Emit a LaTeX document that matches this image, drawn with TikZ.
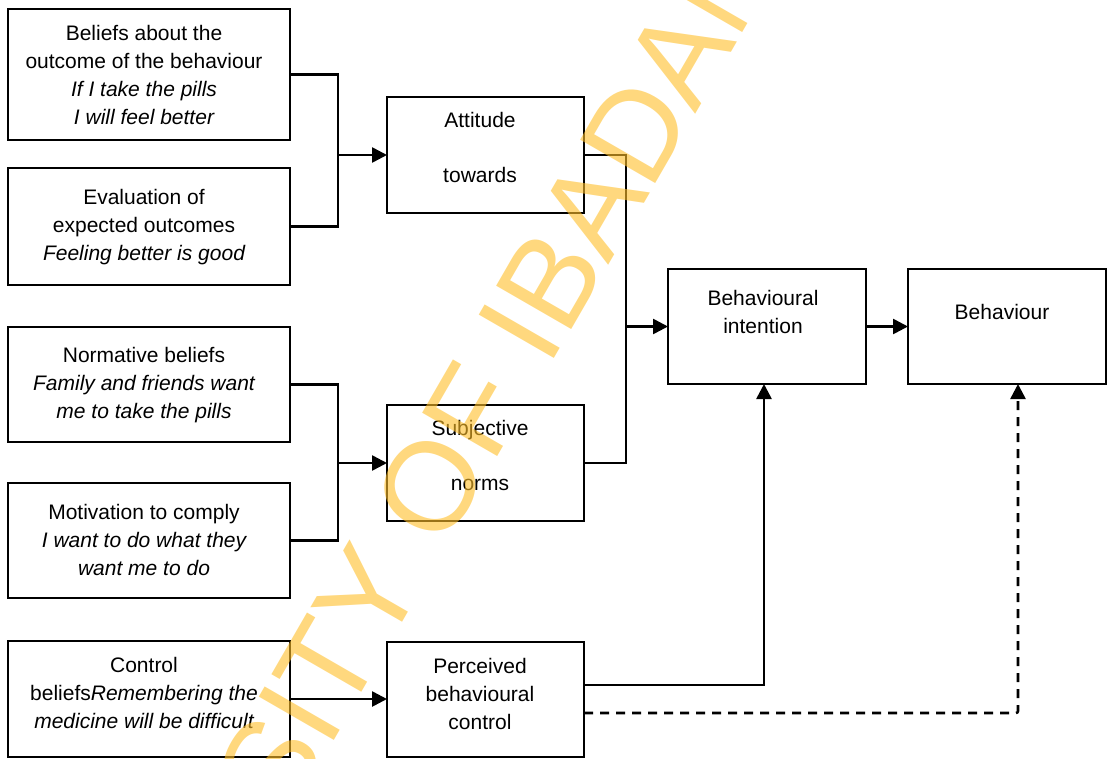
\documentclass[tikz,border=0pt]{standalone}
\usepackage{fontspec}
\setmainfont{Liberation Sans}
\usetikzlibrary{arrows.meta}
\definecolor{wm}{RGB}{255,190,40}
\newcommand\mlines[1]{\begin{tabular}[t]{@{}c@{}}#1\end{tabular}}
\begin{document}
\begin{tikzpicture}[x=1pt,y=-1pt,
  box/.style={draw,line width=2pt,inner sep=0pt,outer sep=0pt},
  txt/.style={anchor=base,inner sep=0pt,font=\fontsize{21}{28}\selectfont},
  conn/.style={line width=2.6pt},
  arr/.style={line width=2.6pt,-{Triangle[length=15pt,width=15pt]}}]
\useasboundingbox (0,0) rectangle (1108,758);
% boxes
\node[box,minimum width=282pt,minimum height=131pt] (b1) at (149,74.5) {};
\node[box,minimum width=282pt,minimum height=117pt] (b2) at (149,226.5) {};
\node[box,minimum width=282pt,minimum height=115pt] (b3) at (149,384.5) {};
\node[box,minimum width=282pt,minimum height=115pt] (b4) at (149,540.5) {};
\node[box,minimum width=282pt,minimum height=116pt] (b5) at (149,699) {};
\node[box,minimum width=197pt,minimum height=116pt] (att) at (485.5,155) {};
\node[box,minimum width=197pt,minimum height=116pt] (sub) at (485.5,463) {};
\node[box,minimum width=197pt,minimum height=115pt] (pbc) at (485.5,699.5) {};
\node[box,minimum width=198pt,minimum height=115pt] (bi) at (767,326.5) {};
\node[box,minimum width=198pt,minimum height=115pt] (beh) at (1007,326.5) {};
% texts
\node[txt] (t1) at (144,40.5) {\mlines{Beliefs about the\\outcome of the behaviour\\\itshape If I take the pills\\\itshape I will feel better}};
\node[txt] (t2) at (144,204.5) {\mlines{Evaluation of\\expected outcomes\\\itshape Feeling better is good}};
\node[txt] (t3) at (144,362.5) {\mlines{Normative beliefs\\\itshape Family and friends want\\\itshape me to take the pills}};
\node[txt] (t4) at (144,519.5) {\mlines{Motivation to comply\\\itshape I want to do what they\\\itshape want me to do}};
\node[txt] (t5) at (144,672.5) {\mlines{Control\\beliefs\textit{Remembering the}\\\itshape medicine will be difficult}};
\node[txt] (t6) at (480,127.5) {\mlines{Attitude\\[27pt]towards}};
\node[txt] (t7) at (480,435.5) {\mlines{Subjective\\[27pt]norms}};
\node[txt] (t8) at (480,673.5) {\mlines{Perceived\\behavioural\\control}};
\node[txt] (t9) at (763,305.5) {\mlines{Behavioural\\intention}};
\node[txt] (t10) at (1002,319.5) {Behaviour};
% connectors
\coordinate (j1) at (338,155);
\coordinate (j2) at (338,463);
\coordinate (j3) at (626,326.5);
\draw[conn] (b1.east) -- (b1.east -| j1) -- (b2.east -| j1) -- (b2.east);
\draw[arr] (j1) -- (att.west);
\draw[conn] (b3.east) -- (b3.east -| j2) -- (b4.east -| j2) -- (b4.east);
\draw[arr] (j2) -- (sub.west);
\draw[arr] (b5.east) -- (b5.east -| pbc.west);
\draw[conn] (att.east) -| (j3) |- (sub.east);
\draw[arr] (j3) -- (bi.west);
\draw[arr] (bi.east) -- (beh.west);
\draw[arr] ([yshift=14.5pt]pbc.east) -| ([xshift=-3pt]bi.south);
\draw[arr,dash pattern=on 9pt off 7pt,rounded corners=2pt] ([yshift=-13.5pt]pbc.east) -| ([xshift=11pt]beh.south);
% watermark
\begin{scope}
\clip (0,0) rectangle (1108,758);
\node[anchor=base west,rotate=60,inner sep=0pt,text=wm,opacity=0.6,font=\fontsize{126}{126}\selectfont] (wmk) at (48,1236) {UNIVERSITY OF IBADAN};
\end{scope}
\end{tikzpicture}
\end{document}
